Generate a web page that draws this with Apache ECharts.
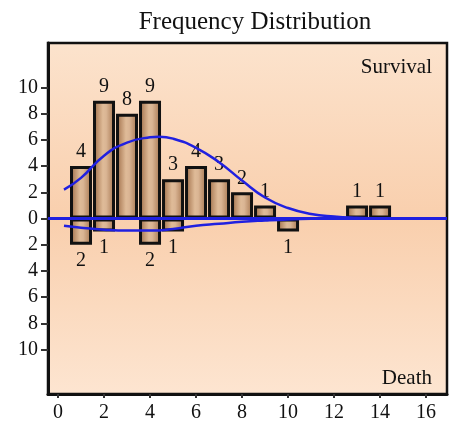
<!DOCTYPE html>
<html>
<head>
<meta charset="utf-8">
<script src="https://cdn.jsdelivr.net/npm/echarts@6/dist/echarts.min.js"></script>
<style>
  html, body { margin: 0; padding: 0; background: #ffffff; }
  #chart { width: 449px; height: 425px; }
</style>
</head>
<body>
<div id="chart"></div>
<script>
// Observed counts per class (survival above the zero line, death below it)
const survivalX = [1, 2, 3, 4, 5, 6, 7, 8, 9, 13, 14];
const survivalCounts = [4, 9, 8, 9, 3, 4, 3, 2, 1, 1, 1];
const deathX = [1, 2, 4, 5, 10];
const deathCounts = [2, 1, 2, 1, 1];

// Fitted density curves, sampled along x
const survivalCurveX = [0.26, 1, 2, 3, 4, 4.4, 5, 6, 7, 8, 9, 10, 11, 12, 13, 14];
const survivalCurveY = [2.2, 3.1, 4.8, 5.8, 6.2, 6.25, 6.1, 5.4, 4.3, 2.9, 1.6, 0.8, 0.35, 0.15, 0.05, 0];
const deathCurveX = [0.26, 1, 2, 3, 4, 5, 6, 7, 8, 9, 10, 11, 12];
const deathCurveY = [0.55, 0.7, 0.85, 0.92, 0.92, 0.8, 0.55, 0.4, 0.25, 0.15, 0.07, 0.02, 0];

// Axis tick labels
const xTicks = [0, 2, 4, 6, 8, 10, 12, 14, 16];
const yTicks = [-10, -8, -6, -4, -2, 0, 2, 4, 6, 8, 10];

const serif = '"Liberation Serif", "DejaVu Serif", serif';
const blue = '#2020e0';

const barFill = new echarts.graphic.LinearGradient(0, 0, 1, 0, [
  { offset: 0, color: '#9c6a44' },
  { offset: 0.45, color: '#dfbb98' },
  { offset: 0.6, color: '#dab594' },
  { offset: 1, color: '#a3724b' }
]);

const chart = echarts.init(document.getElementById('chart'), null, { renderer: 'canvas' });

chart.setOption({
  animation: false,
  title: [
    {
      text: 'Frequency Distribution',
      left: 250, top: 5, textAlign: 'center',
      textStyle: { fontFamily: serif, fontSize: 25, fontWeight: 'normal', color: '#111' }
    },
    {
      text: 'Survival', right: 12, top: 52,
      textStyle: { fontFamily: serif, fontSize: 21, fontWeight: 'normal', color: '#111' }
    },
    {
      text: 'Death', right: 12, top: 363,
      textStyle: { fontFamily: serif, fontSize: 21, fontWeight: 'normal', color: '#111' }
    }
  ],
  grid: {
    left: 48, top: 43, width: 399, height: 351,
    show: true,
    backgroundColor: new echarts.graphic.LinearGradient(0, 0, 0, 1, [
      { offset: 0, color: '#fce3cd' },
      { offset: 0.5, color: '#f9cfad' },
      { offset: 1, color: '#fde5d1' }
    ]),
    borderColor: '#111', borderWidth: 2.5
  },
  xAxis: {
    type: 'value', min: -0.435, max: 16.91,
    splitLine: { show: false },
    axisLine: { onZero: false, lineStyle: { color: '#111', width: 3 } },
    axisTick: { customValues: xTicks, length: 4, lineStyle: { color: '#333', width: 2 } },
    axisLabel: {
      customValues: xTicks, margin: 9,
      fontFamily: serif, fontSize: 20, color: '#111'
    }
  },
  yAxis: {
    type: 'value', min: -13.4, max: 13.4,
    splitLine: { show: false },
    axisLine: { show: true, onZero: false, lineStyle: { color: '#111', width: 3 } },
    axisTick: { customValues: yTicks, length: 7, lineStyle: { color: '#333', width: 2 } },
    axisLabel: {
      customValues: yTicks, margin: 10,
      fontFamily: serif, fontSize: 20, color: '#111',
      formatter: v => String(Math.abs(v))
    }
  },
  series: [
    {
      name: 'zero',
      type: 'line',
      data: [],
      z: 1,
      markLine: {
        silent: true, symbol: 'none', label: { show: false },
        lineStyle: { color: blue, width: 3, type: 'solid' },
        data: [{ yAxis: 0 }]
      }
    },
    {
      name: 'Survival',
      type: 'bar',
      stack: 'freq',
      barWidth: 22,
      z: 2,
      data: survivalX.map((x, i) => [x, survivalCounts[i]]),
      itemStyle: { color: barFill, borderColor: '#111', borderWidth: 3 },
      label: {
        show: true, position: 'top', distance: 4,
        fontFamily: serif, fontSize: 20, color: '#111',
        formatter: p => String(p.value[1])
      }
    },
    {
      name: 'Death',
      type: 'bar',
      stack: 'freq',
      barWidth: 22,
      z: 2,
      data: deathX.map((x, i) => [x, -deathCounts[i]]),
      itemStyle: { color: barFill, borderColor: '#111', borderWidth: 3 },
      label: {
        show: true, position: 'bottom', distance: 6,
        fontFamily: serif, fontSize: 20, color: '#111',
        formatter: p => String(Math.abs(p.value[1]))
      }
    },
    {
      name: 'Survival fit',
      type: 'line',
      smooth: true,
      showSymbol: false,
      z: 3,
      data: survivalCurveX.map((x, i) => [x, survivalCurveY[i]]),
      lineStyle: { color: blue, width: 2.5 }
    },
    {
      name: 'Death fit',
      type: 'line',
      smooth: true,
      showSymbol: false,
      z: 3,
      data: deathCurveX.map((x, i) => [x, -deathCurveY[i]]),
      lineStyle: { color: blue, width: 2.5 }
    }
  ]
});
</script>
</body>
</html>
